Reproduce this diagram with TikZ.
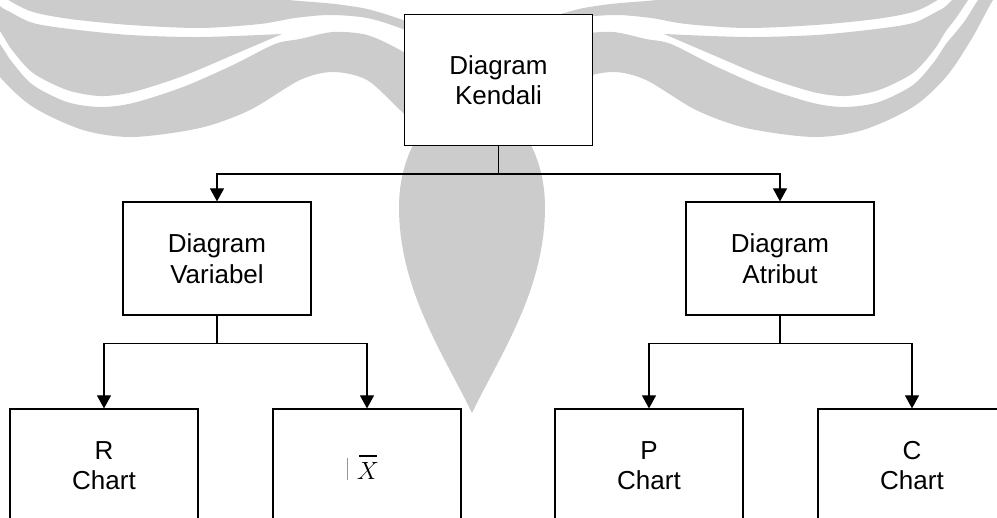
\documentclass[tikz,border=0pt]{standalone}
\usepackage{fontspec}
\setmainfont{Liberation Sans}
\usetikzlibrary{arrows.meta}
\definecolor{markgray}{RGB}{204,204,204}
\definecolor{bargray}{RGB}{150,150,150}

% One wing of the background emblem (left half); the right half is its mirror image.
\newcommand\emblemwing{%
  % upper band
  \fill[markgray] plot[smooth] coordinates {(-40,-25) (50,-14) (150,-8) (250,-3) (300,1) (335,4) (367,9) (400,19) (440,35)}
    -- plot[smooth] coordinates {(440,45) (400,28) (367,18) (330,15) (295,18) (260,24) (200,28) (130,25) (70,19) (33,12) (10,1) (-10,-14) (-30,-30)}
    -- cycle;
  % middle leaf
  \fill[markgray] plot[smooth] coordinates {(282,34) (200,37) (130,35) (70,29) (33,23) (10,12) (0,6) (-15,-10) (-25,-25)}
    -- plot[smooth] coordinates {(-38,-25) (-22,0) (-10,18) (0,31) (12,50) (33,73) (67,90) (100,96) (133,92) (183,76) (233,55) (282,34)}
    -- cycle;
  % lower band
  \fill[markgray] plot[smooth] coordinates {(-50,-25) (-32,0) (-18,22) (0,44) (12,62) (33,85) (67,102) (100,107) (133,103) (183,87) (233,65) (275,44) (300,39) (333,32) (367,35) (400,50) (440,75)}
    -- plot[smooth] coordinates {(430,138) (400,110) (367,80) (333,72) (300,80) (250,110) (200,128) (133,137) (83,130) (33,107) (0,77) (-25,40) (-47,0) (-65,-25)}
    -- cycle;
}

% X with a bar over it, preceded by a thin grey stroke
\newcommand\xbarlabel{%
  \hbox{\rule{0pt}{29pt}\textcolor{bargray}{\rule{1.2pt}{22pt}}\hspace{8.5pt}%
    \fontsize{25}{30}\selectfont
    \makebox[0pt][l]{\hspace{2.5pt}\rule[23pt]{18pt}{1.8pt}}$X$\hspace{8pt}}}

\begin{document}
\begin{tikzpicture}[x=1pt,y=-1pt,
  chartbox/.style={draw=black, fill=white, line width=1.2pt,
    minimum width=188pt, minimum height=113pt, align=center, inner sep=0pt,
    font=\fontsize{26}{30.5}\selectfont},
  link/.style={line width=1.2pt},
  arr/.style={link, -{Triangle[width=14pt,length=13pt]}}]

\useasboundingbox (0,0) rectangle (997,518);
\clip (0,0) rectangle (997,518);

% background emblem
\emblemwing
\begin{scope}[shift={(946,0)},xscale=-1]
  \emblemwing
\end{scope}
\fill[markgray] (545,207) .. controls (545,149) and (512.3,102) .. (472,102)
  .. controls (431.7,102) and (399,149) .. (399,207)
  .. controls (399,290) and (444,355) .. (472,413)
  .. controls (500,355) and (545,290) .. (545,207) -- cycle;

% boxes
\node[chartbox, minimum height=131pt] (root) at (498.5,80) {Diagram\\Kendali};
\node[chartbox] (var) at (217,258.5) {Diagram\\Variabel};
\node[chartbox] (atr) at (780,258.5) {Diagram\\Atribut};
\node[chartbox] (rch) at (104,465.5) {R\\Chart};
\node[chartbox] (xch) at (367,465.5) {\xbarlabel};
\node[chartbox] (pch) at (649,465.5) {P\\Chart};
\node[chartbox] (cch) at (912,465.5) {C\\Chart};

% connectors
\path (root.south) ++(0,28) coordinate (j0);
\draw[link] (root.south) -- (j0);
\draw[arr] (j0) -| (var.north);
\draw[arr] (j0) -| (atr.north);

\path (var.south) ++(0,28) coordinate (j1);
\draw[link] (var.south) -- (j1);
\draw[arr] (j1) -| (rch.north);
\draw[arr] (j1) -| (xch.north);

\path (atr.south) ++(0,28) coordinate (j2);
\draw[link] (atr.south) -- (j2);
\draw[arr] (j2) -| (pch.north);
\draw[arr] (j2) -| (cch.north);
\end{tikzpicture}
\end{document}
